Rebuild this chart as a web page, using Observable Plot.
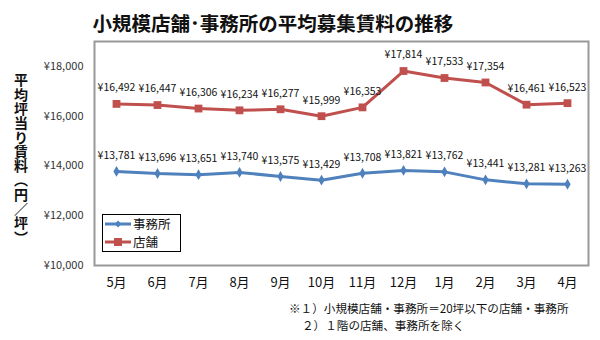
<!DOCTYPE html>
<html><head><meta charset="utf-8">
<script src="https://cdn.jsdelivr.net/npm/d3@7"></script>
<script src="https://cdn.jsdelivr.net/npm/@observablehq/plot@0.6"></script>
<style>
body{margin:0;background:#fff;font-family:"Noto Sans CJK JP",sans-serif;}
#wrap{position:relative;width:600px;height:340px;overflow:hidden;}
#title{position:absolute;left:0;width:546px;top:8px;text-align:center;font-size:19.5px;font-weight:bold;color:#111;}
#ytitle{position:absolute;left:11px;top:73px;writing-mode:vertical-rl;font-size:14px;font-weight:bold;color:#111;letter-spacing:0.3px;}
#chart{position:absolute;left:0;top:0;}
#legend{position:absolute;left:102px;top:214px;width:79px;height:38px;border:1px solid #000;background:#fff;font-size:12.5px;color:#111;box-sizing:border-box;}
#legend div{display:flex;align-items:center;height:18px;}
#legend span{line-height:18px;}
#note{position:absolute;left:289px;top:300px;font-size:11.6px;color:#111;line-height:17px;}
</style></head><body>
<div id="wrap">
<div id="title">小規模店舗･事務所の平均募集賃料の推移</div>
<div id="ytitle">平均坪当り賃料（円／坪）</div>
<div id="chart"></div>
<div id="legend"></div>
<div id="note">※１）小規模店舗・事務所＝20坪以下の店舗・事務所<br><span style="padding-left:13px">２）１階の店舗、事務所を除く</span></div>
</div>
<script>
const months = ["5月","6月","7月","8月","9月","10月","11月","12月","1月","2月","3月","4月"];
const office = [13781,13696,13651,13740,13575,13429,13708,13821,13762,13441,13281,13263];
const store = [16492,16447,16306,16234,16277,15999,16353,17814,17533,17354,16461,16523];
const seriesNames = ["事務所","店舗"];
const seriesColors = ["#4F81BD","#C0504D"];
const yTicks = [10000,12000,14000,16000,18000];

const officeData = months.map((m,i)=>({month:m,value:office[i]}));
const storeData = months.map((m,i)=>({month:m,value:store[i]}));
const fmt = v => "¥" + d3.format(",")(v);

const chart = Plot.plot({
  width:600, height:300,
  marginTop:41, marginBottom:35, marginLeft:94, marginRight:12,
  style:{fontFamily:"'Noto Sans CJK JP', sans-serif", background:"transparent"},
  x:{type:"point", domain:months, padding:0.5, label:null, tickSize:0, tickPadding:12},
  y:{domain:[10000,19000], ticks:yTicks, tickFormat:fmt, label:null, tickSize:0, tickPadding:11},
  marks:[
    Plot.frame({stroke:"#999", strokeWidth:2}),
    Plot.axisX({tickSize:0, tickPadding:12, fontSize:13, fill:"#111", label:null}),
    Plot.axisY({ticks:yTicks, tickFormat:fmt, tickSize:0, tickPadding:11, fontSize:11, fill:"#333", label:null}),
    Plot.line(officeData,{x:"month",y:"value",stroke:seriesColors[0],strokeWidth:3}),
    Plot.line(storeData,{x:"month",y:"value",stroke:seriesColors[1],strokeWidth:3}),
    Plot.dot(officeData,{x:"month",y:"value",symbol:"diamond",r:2.4,fill:seriesColors[0],stroke:seriesColors[0]}),
    Plot.dot(storeData,{x:"month",y:"value",symbol:"square",r:4.4,fill:seriesColors[1]}),
    Plot.text(officeData,{x:"month",y:"value",text:d=>fmt(d.value),dy:-16,fontSize:10.5,fill:"#111"}),
    Plot.text(storeData,{x:"month",y:"value",text:d=>fmt(d.value),dy:-16,fontSize:10.5,fill:"#111"})
  ]
});
document.getElementById("chart").appendChild(chart);

const lg = document.getElementById("legend");
seriesNames.forEach((n,i)=>{
  const row = document.createElement("div");
  const sym = i===0
    ? `<svg width="30" height="10"><line x1="2" x2="28" y1="5" y2="5" stroke="${seriesColors[i]}" stroke-width="3"/><path d="M15,1.5L18.5,5L15,8.5L11.5,5Z" fill="${seriesColors[i]}"/></svg>`
    : `<svg width="30" height="10"><line x1="2" x2="28" y1="5" y2="5" stroke="${seriesColors[i]}" stroke-width="3"/><rect x="11" y="1" width="8" height="8" fill="${seriesColors[i]}"/></svg>`;
  row.innerHTML = sym + `<span>${n}</span>`;
  lg.appendChild(row);
});
</script>
</body></html>
